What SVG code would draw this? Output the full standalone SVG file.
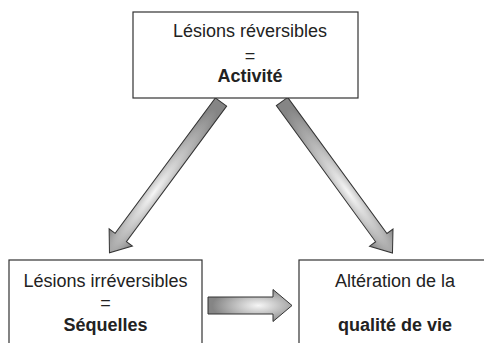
<svg xmlns="http://www.w3.org/2000/svg" width="484" height="343" viewBox="0 0 484 343">
<defs>
<radialGradient id="g" cx="0.6" cy="0.5" r="0.55">
<stop offset="0" stop-color="#f6f6f6"/>
<stop offset="0.55" stop-color="#b9b9b9"/>
<stop offset="1" stop-color="#858585"/>
</radialGradient>
</defs>
<style>
.box{fill:#fff;stroke:#333;stroke-width:1.2}
.arr{fill:url(#g);stroke:#333;stroke-width:1;stroke-linejoin:miter}
text{font-family:"Liberation Sans",Arial,sans-serif;font-size:18px;fill:#222;text-anchor:middle}
.b{font-weight:bold}
</style>
<rect width="484" height="343" fill="#fff"/>
<g id="connectors">
<polygon class="arr" transform="translate(282,101.5) rotate(53.9)" points="0,-7 168.5,-7 168.5,-14.5 187.5,0 168.5,14.5 168.5,7 0,7"/>
<polygon class="arr" transform="translate(221,102) rotate(126.5)" points="0,-7 168.5,-7 168.5,-14.5 187.5,0 168.5,14.5 168.5,7 0,7"/>
<polygon class="arr" transform="translate(208,305.5)" points="0,-8.5 65,-8.5 65,-16 84,0 65,16 65,8.5 0,8.5"/>
</g>
<g id="node-activite">
<rect class="box" x="133" y="12" width="225" height="86"/>
<text x="250" y="37">Lésions réversibles</text>
<text x="250" y="62">=</text>
<text class="b" x="250" y="82">Activité</text>
</g>
<g id="node-sequelles">
<rect class="box" x="9" y="260" width="193" height="100"/>
<text x="105.5" y="287">Lésions irréversibles</text>
<text x="105.5" y="309">=</text>
<text class="b" x="105.5" y="331">Séquelles</text>
</g>
<g id="node-qualite">
<rect class="box" x="299" y="260" width="200" height="100"/>
<text x="395" y="287">Altération de la</text>
<text class="b" x="395" y="331">qualité de vie</text>
</g>
</svg>
